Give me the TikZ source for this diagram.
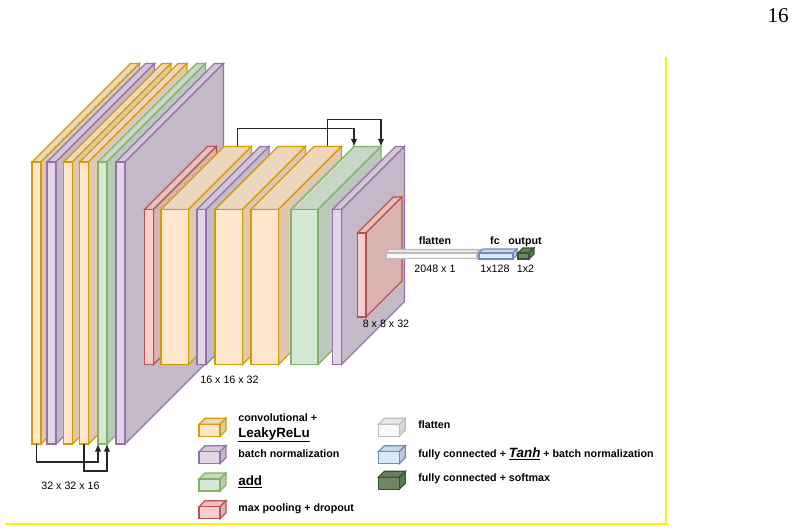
\documentclass[tikz,border=0pt]{standalone}
\usepackage{fontspec}
\setmainfont{Liberation Sans}
\newfontfamily\pagefont{Liberation Serif}
\usepackage{xcolor}
\usepackage{tikz}
\usetikzlibrary{arrows.meta}

\definecolor{convfill}{HTML}{FFE6CC}
\definecolor{convline}{HTML}{D79B00}
\definecolor{normfill}{HTML}{E1D5E7}
\definecolor{normline}{HTML}{9673A6}
\definecolor{sumfill}{HTML}{D5E8D4}
\definecolor{sumline}{HTML}{82B366}
\definecolor{poolfill}{HTML}{F8CECC}
\definecolor{poolline}{HTML}{B85450}
\definecolor{flatnfill}{HTML}{F8F8F8}
\definecolor{flatnline}{HTML}{BDBDBD}
\definecolor{densefill}{HTML}{DAE8FC}
\definecolor{denseline}{HTML}{6C8EBF}
\definecolor{softfill}{HTML}{6D8764}
\definecolor{softline}{HTML}{3A5431}

% layer box: name, x, top, width, height, depth, kind
\newcommand\layerbox[7]{%
  \filldraw[#7, fill=#7fill!93!black] (#2,#3) -- ++(#6,-#6) -- ++(#4,0) -- ++(-#6,#6) -- cycle;
  \filldraw[#7, fill=#7fill!87!black] (#2+#4,#3) -- ++(#6,-#6) -- ++(0,#5) -- ++(-#6,#6) -- cycle;
  \filldraw[#7] (#2,#3) rectangle ++(#4,#5);
  \coordinate (#1-b) at (#2+#4/2,#3+#5);
  \coordinate (#1-bl) at (#2,#3+#5);
  \coordinate (#1-br) at (#2+#4,#3+#5);
  \coordinate (#1-t) at (#2+#6+#4/2,#3-#6);
  \coordinate (#1-tl) at (#2+#6,#3-#6);
  \coordinate (#1-tr) at (#2+#6+#4,#3-#6);
}

\begin{document}
\begin{tikzpicture}[
  x=1pt, y=-1pt,
  line width=1.2pt,
  conv/.style={draw=convline, fill=convfill},
  norm/.style={draw=normline, fill=normfill},
  sum/.style={draw=sumline, fill=sumfill},
  pool/.style={draw=poolline, fill=poolfill},
  flatn/.style={draw=flatnline, fill=flatnfill},
  dense/.style={draw=denseline, fill=densefill},
  soft/.style={draw=softline, fill=softfill},
  dim/.style={font=\fontsize{10.7}{12}\selectfont, inner sep=0pt, anchor=base},
  lbl/.style={dim, font=\bfseries\fontsize{10.7}{12}\selectfont},
  legend/.style={font=\bfseries\fontsize{10.7}{12}\selectfont, inner sep=0pt, anchor=base west},
  big/.style={font=\bfseries\fontsize{13.4}{15}\selectfont},
  arrow/.style={-{Latex[length=7.5pt,width=6.5pt]}, line width=1.1pt, black!85}
]
\useasboundingbox (0,0) rectangle (795,532);

% 32 x 32 x 16
\layerbox{L1}{32}{162}{9}{282}{98.5}{conv}
\layerbox{L2}{47}{162}{9}{282}{98.5}{norm}
\layerbox{L3}{63.5}{162}{9}{282}{98.5}{conv}
\layerbox{L4}{79.5}{162}{9}{282}{98.5}{conv}
\layerbox{L5}{98}{162}{9}{282}{98.5}{sum}
\layerbox{L6}{116}{162}{9}{282}{98.5}{norm}

% 16 x 16 x 32
\layerbox{M1}{144.5}{209.5}{9}{155}{63}{pool}
\layerbox{M2}{161}{209.5}{27.5}{155}{63}{conv}
\layerbox{M3}{197}{209.5}{9}{155}{63}{norm}
\layerbox{M4}{215}{209.5}{27.5}{155}{63}{conv}
\layerbox{M5}{251}{209.5}{27.5}{155}{63}{conv}
\layerbox{M6}{291}{209.5}{27}{155}{63}{sum}
\layerbox{M7}{332.5}{209.5}{9}{155}{63}{norm}

% 8 x 8 x 32
\layerbox{S1}{357.5}{233}{8.5}{84}{36}{pool}

% flatten, fc, output
\layerbox{F}{386}{253}{91}{5.5}{3.5}{flatn}
\layerbox{D}{479}{253}{34}{6}{4}{dense}
\layerbox{O}{518}{253}{11}{6}{5}{soft}

% skip connections
\draw[arrow] (L1-b) -- ++(0,18) -| (L5-bl);
\draw[arrow] (L4-b) -- ++(0,27) -| (L5-br);
\draw[arrow] (M2-t) -- ++(0,-18) -| (M6-tl);
\draw[arrow] (M5-t) -- ++(0,-27) -| (M6-tr);

\node[dim] (dimL) at (70.5,489) {32 x 32 x 16};
\node[dim] (dimM) at (229.5,383) {16 x 16 x 32};
\node[dim] (dimS) at (386,327.3) {8 x 8 x 32};
\node[lbl] (flatlbl) at (435,244) {flatten};
\node[lbl] (fclbl) at (495,244) {fc};
\node[lbl] (outlbl) at (525,244) {output};
\node[dim] (flatdim) at (435,272) {2048 x 1};
\node[dim] (fcdim) at (495,272) {1x128};
\node[dim] (outdim) at (525.5,272) {1x2};

% legend
\layerbox{G1}{199}{424.3}{21}{12}{6}{conv}
\layerbox{G2}{199}{451.7}{21}{12}{6}{norm}
\layerbox{G3}{199}{479}{21}{12}{6}{sum}
\layerbox{G4}{199}{506.7}{21}{12}{6}{pool}
\layerbox{G5}{378.3}{424.3}{21}{12}{6}{flatn}
\layerbox{G6}{378.3}{451.7}{21}{12}{6}{dense}
\layerbox{G7}{378.3}{477.3}{21}{12}{6}{soft}

\node[legend] (lgconv) at (237.7,421.3) {convolutional +};
\node[legend, big] (lgrelu) at (237.7,437.3) {\underline{LeakyReLu}};
\node[legend] (lgnorm) at (237.7,457.3) {batch normalization};
\node[legend, big] (lgsum) at (237.7,485.7) {\underline{add}};
\node[legend] (lgpool) at (237.7,511.7) {max pooling + dropout};
\node[legend] (lgflat) at (417.7,428) {flatten};
\node[legend] (lgdense) at (417.7,457.3) {fully connected + {\fontsize{13.4}{15}\selectfont\itshape\underline{Tanh}} + batch normalization};
\node[legend] (lgsoft) at (417.7,481.3) {fully connected + softmax};

% page frame and number
\draw[yellow, line width=2pt] (5,524) -- (666,524) -- (666,57);
\node[font=\pagefont\fontsize{21}{24}\selectfont, inner sep=0pt] (pagenum) at (778,16) {16};
\end{tikzpicture}
\end{document}
